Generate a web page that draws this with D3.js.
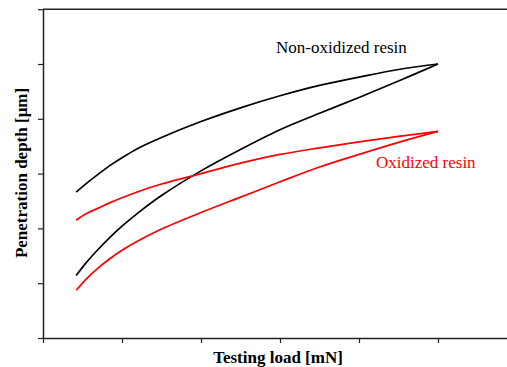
<!DOCTYPE html>
<html>
<head>
<meta charset="utf-8">
<script src="https://cdn.jsdelivr.net/npm/d3@7"></script>
<style>
  body { margin: 0; background: #fff; }
  text { font-family: "Liberation Serif", "Times New Roman", serif; }
</style>
</head>
<body>
<div id="chart"></div>
<script>
// testing load (arbitrary axis units) shared by all four curves
var load = [0.42, 0.55, 0.7, 0.85, 1.0, 1.2, 1.5, 2.0, 2.5, 3.0, 3.5, 4.0, 4.5, 5.0];

// penetration depth
var nonOxLoading   = [1.14, 1.38, 1.62, 1.84, 2.04, 2.28, 2.60, 3.05, 3.44, 3.80, 4.10, 4.39, 4.69, 5.00];
var nonOxUnloading = [2.66, 2.82, 2.99, 3.15, 3.29, 3.46, 3.66, 3.95, 4.20, 4.42, 4.61, 4.76, 4.90, 5.00];
var oxLoading      = [0.87, 1.08, 1.28, 1.45, 1.60, 1.77, 1.99, 2.29, 2.57, 2.85, 3.12, 3.35, 3.57, 3.77];
var oxUnloading    = [2.15, 2.27, 2.37, 2.47, 2.56, 2.67, 2.81, 3.00, 3.19, 3.35, 3.47, 3.58, 3.68, 3.77];

var xTicks = [0, 1, 2, 3, 4, 5, 6];
var yTicks = [0, 1, 2, 3, 4, 5, 6];

var width = 507, height = 367;
var margin = {top: 9.2, left: 43, bottom: 29};

var x = d3.scaleLinear().domain([0, 6]).range([margin.left, margin.left + 6 * 79]);
var y = d3.scaleLinear().domain([0, 6]).range([height - margin.bottom, margin.top]);

var svg = d3.select("#chart").append("svg")
    .attr("width", width)
    .attr("height", height);

// top frame line
svg.append("line")
    .attr("x1", x(0)).attr("x2", width)
    .attr("y1", y(6)).attr("y2", y(6))
    .attr("stroke", "#222")
    .attr("stroke-width", 1.5);

var xAxis = d3.axisBottom(x)
    .tickValues(xTicks)
    .tickFormat("")
    .tickSizeInner(5)
    .tickSizeOuter(0);

var yAxis = d3.axisLeft(y)
    .tickValues(yTicks)
    .tickFormat("")
    .tickSizeInner(5)
    .tickSizeOuter(0);

var gx = svg.append("g")
    .attr("transform", "translate(0," + y(0) + ")")
    .call(xAxis);

var gy = svg.append("g")
    .attr("transform", "translate(" + x(0) + ",0)")
    .call(yAxis);

[gx, gy].forEach(function(g) {
  g.select(".domain").attr("stroke", "#222").attr("stroke-width", 1.5);
  g.selectAll(".tick line").attr("stroke", "#222").attr("stroke-width", 1.2);
});

var line = d3.line()
    .x(function(d) { return x(d[0]); })
    .y(function(d) { return y(d[1]); })
    .curve(d3.curveCatmullRom.alpha(0.5));

var curves = [
  {values: nonOxLoading, color: "#000"},
  {values: nonOxUnloading, color: "#000"},
  {values: oxLoading, color: "#ff0000"},
  {values: oxUnloading, color: "#ff0000"}
];

curves.forEach(function(c) {
  svg.append("path")
      .datum(d3.zip(load, c.values))
      .attr("fill", "none")
      .attr("stroke", c.color)
      .attr("stroke-width", 1.7)
      .attr("d", line);
});

// curve labels
svg.append("text")
    .attr("x", 276)
    .attr("y", 53)
    .attr("font-size", 17)
    .attr("fill", "#000")
    .text("Non-oxidized resin");

svg.append("text")
    .attr("x", 376)
    .attr("y", 167.5)
    .attr("font-size", 17)
    .attr("fill", "#ff0000")
    .text("Oxidized resin");

// axis titles
svg.append("text")
    .attr("x", 278)
    .attr("y", 362.5)
    .attr("text-anchor", "middle")
    .attr("font-size", 17)
    .attr("font-weight", "bold")
    .text("Testing load [mN]");

svg.append("text")
    .attr("transform", "translate(26.5,173) rotate(-90)")
    .attr("text-anchor", "middle")
    .attr("font-size", 17)
    .attr("font-weight", "bold")
    .text("Penetration depth [\u03bcm]");
</script>
</body>
</html>
